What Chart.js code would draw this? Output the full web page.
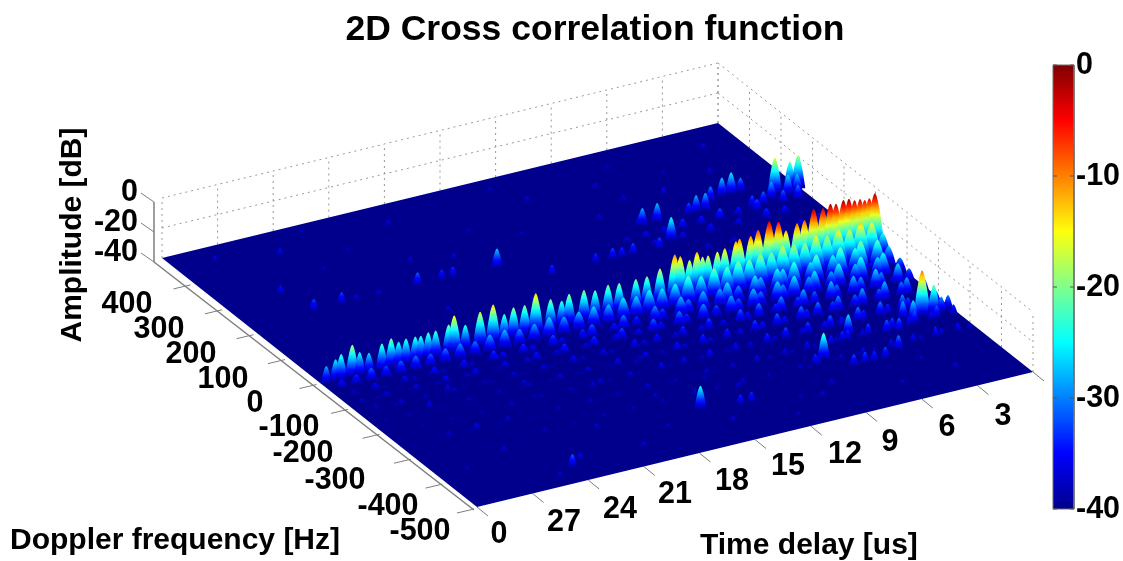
<!DOCTYPE html>
<html>
<head>
<meta charset="utf-8">
<title>2D Cross correlation function</title>
<style>
  html, body { margin: 0; padding: 0; background: #fff; overflow: hidden; }
  #box { position: relative; width: 1123px; height: 561px; }
</style>
<script src="https://cdn.jsdelivr.net/npm/chart.js@4"></script>
</head>
<body>
<div id="box"><canvas id="chart"></canvas></div>
<script>
// Ejes
const delayTicks = [30, 27, 24, 21, 18, 15, 12, 9, 6, 3, 0];
const delayLabels = ['0', '27', '24', '21', '18', '15', '12', '9', '6', '3', '0'];
const dopplerTicks = [-500, -400, -300, -200, -100, 0, 100, 200, 300, 400, 500];
const dopplerLabels = ['-500', '-400', '-300', '-200', '-100', '0', '100', '200', '300', '400'];
const ampTicks = [0, -20, -40];
const colorbarTicks = [0, -10, -20, -30, -40];
const colorbarLevels = [-40, -35, -30, -25, -20, -15, -10, -5, 0];

// Camino directo (doppler casi nulo)
const mainDoppler = -10;
const mainDelay = [29.8, 29.3, 29.0, 28.4, 28.0, 27.5, 26.8, 26.3, 25.9, 25.5, 25.0, 24.7, 24.3, 23.9, 23.2, 22.9, 22.3, 21.5, 20.8, 20.2, 19.7, 19.1, 18.5, 17.7, 17.1, 16.7, 15.9, 15.3, 14.6, 14.0, 13.1, 12.5, 11.8, 11.0, 10.7, 10.2, 9.8, 9.5, 9.2, 8.7, 8.3, 7.7, 7.5, 6.9, 6.5, 5.9, 5.4, 5.0, 4.4, 4.0, 3.5, 3.0, 2.6, 2.3, 1.9, 1.6, 1.3, 1.0, 0.75, 0.5, 0.2];
const mainAmp = [-28, -25, -22.4, -18, -24, -26, -22, -20, -23.5, -22.5, -22.7, -23, -22, -22, -20, -15, -23, -16.6, -14, -22, -19, -19.3, -13.3, -19.5, -22.5, -19, -19, -21, -19.4, -20, -20, -20, -17, -10, -12, -16, -12, -16, -16, -15, -14, -11, -10, -10, -7, -3, -5, -12, -9, -8, -2, -3, -1.4, -2.2, -1, -1, -3, -3, -4.4, -4, -1.5];

// Falda del camino directo, filas de doppler
const skirtDelayA = [0.2, 0.8, 1.4, 2.0, 2.6, 3.2, 3.8, 4.4, 5.0, 5.6, 6.2, 6.8, 7.4, 8.0, 8.6, 9.3, 10.0, 10.7, 11.4, 12.1, 12.8, 13.5, 14.2, 15.0, 15.8, 16.6, 17.4, 18.2, 19.0, 19.8, 20.6, 21.4, 22.2, 23.0, 23.8, 24.6, 25.4, 26.2, 27.0, 27.8, 28.6, 29.4];
const skirtDelayC = [0.4, 1.0, 1.9, 2.2, 3.0, 3.4, 4.3, 4.6, 5.5, 6.1, 6.4, 7.3, 7.6, 8.5, 9.1, 9.5, 10.4, 11.2, 11.6, 12.6, 13.0, 14.0, 14.7, 15.2, 16.4, 16.9, 18.0, 18.5, 19.6, 20.1, 21.2, 21.7, 22.9, 23.3, 24.4, 24.9, 26.0, 26.5, 27.6, 28.1, 29.2];
const skirtDelayD = [0.3, 1.2, 1.5, 2.4, 2.7, 3.6, 4.0, 4.9, 5.2, 6.0, 6.6, 6.9, 7.8, 8.2, 9.0, 9.4, 10.2, 10.9, 11.8, 12.2, 13.2, 13.6, 14.4, 15.3, 15.6, 16.8, 17.2, 18.4, 18.8, 19.9, 20.4, 21.6, 22.0, 23.2, 23.6, 24.8, 25.2, 26.4, 26.8, 28.0, 28.4, 29.3];
const skirtAmp35 = [-24, -15, -13, -16, -14, -17, -15, -18, -17, -16, -19, -18, -20, -19, -21, -20, -23, -21, -24, -25, -24, -26, -25, -27, -26, -27, -28, -26, -28, -29, -27, -28, -30, -29, -30, -31, -30, -31, -32, -31, -33, -34];
const skirtAmp65 = [-27, -21, -19, -23, -20, -24, -21, -25, -22, -25, -24, -27, -25, -29, -25, -28, -27, -30, -27, -32, -29, -33, -30, -34, -31, -33, -35, -32, -35, -33, -35, -33, -37, -34, -37, -34, -37, -35, -38, -35, -37];
const skirtAmp95 = [-30, -24, -26, -23, -27, -24, -28, -25, -28, -25, -29, -26, -30, -27, -31, -28, -32, -29, -33, -30, -34, -31, -35, -32, -35, -33, -36, -33, -36, -34, -36, -35, -38, -35, -37, -35, -38, -36, -38, -36, -38, -37];
const skirtAmp130 = [-31, -26, -29, -26, -29, -27, -30, -27, -31, -28, -32, -29, -33, -30, -34, -31, -35, -32, -35, -33, -36, -34, -36, -34, -37, -35, -37, -35, -38, -36, -38, -36, -38, -37, -38, -37, -39, -37, -39, -38, -39];
const skirtAmp170 = [-31, -28, -30, -27, -31, -28, -31, -29, -32, -30, -33, -30, -34, -31, -34, -32, -35, -33, -36, -33, -36, -34, -37, -35, -37, -35, -38, -36, -38, -36, -38, -37, -39, -37, -39, -37, -39, -38, -39, -38, -39, -38];
const skirtAmp215 = [-32, -29, -32, -29, -33, -30, -33, -30, -34, -31, -34, -32, -35, -32, -36, -33, -36, -34, -37, -34, -37, -35, -38, -35, -38, -36, -38, -36, -39, -37, -38, -37, -39, -37, -39, -38, -39, -38, -39, -38, -39];
const skirtAmp265 = [-33, -31, -34, -31, -34, -32, -35, -32, -35, -33, -36, -34, -37, -34, -37, -35, -37, -35, -38, -36, -38, -36, -38, -37, -38, -36, -38, -37, -39, -37, -39, -37, -39, -38, -39, -38, -39, -38, -39, -38, -39, -38];
const skirtAmp320 = [-36, -34, -35, -33, -36, -34, -37, -34, -37, -35, -37, -36, -38, -35, -38, -36, -38, -37, -38, -36, -38, -37, -39, -36, -38, -37, -39, -37, -39, -37, -39, -38, -39, -37, -39, -38, -39, -38, -39, -38, -39];

// Segundo camino y picos aislados
const echoDelay = [26.5, 25, 24.2, 23, 20.9, 19.6, 19, 16.7, 14.8, 12.4, 11.5, 11, 10.4, 9, 8.1, 8.6, 8.5, 7.7, 6, 5.6, 5.1, 4.4, 3.7, 3.2, 2.7, 1.35, 0.54, 0.1, 1.8, 0.9, 0.4, 1.5, 2.4, 0.7, 3.0, 1.7, 1.1, 0.27, 2.3, 2.6, 0.7, 5.7, 8, 15.7, 4.4, 7.1, 6.5, 6, 5.4, 4, 3.4, 13.8, 13.2, 6.3, 8.6];
const echoDoppler = [224, 224, 224, 224, 224, 224, 224, 219, 156, 159, 158, 158, 158, 156, 172, 240, 240, 240, 240, 240, 240, 265, 270, 270, 270, 240, 240, 240, 225, 225, 225, 205, 215, 205, 215, -248, -250, -246, -255, -240, -250, -249, -306, -368, -332, -349, -349, -349, -349, -271, -275, -383, -383, -265, -315];
const echoAmp = [-32, -32, -36, -36, -31, -33, -33, -27, -33, -33, -32, -33, -32, -32, -24, -31, -28, -27, -32, -28, -28, -30, -27, -25, -30, -16, -21, -18, -28, -26, -27, -31, -31, -30, -32, -9, -20, -30, -26, -28, -29, -26, -22, -24, -30, -32, -32, -33, -32, -31, -31, -33, -33, -33, -33];

// Rastro azul entre los dos caminos
const trailDelay = [3, 4, 5, 6, 7, 8, 9, 10, 2, 3, 4.5, 6, 7.5, 9, 1, 2, 3.2, 4.4, 5.6, 7, 1, 2, 3, 4, 5, 6.5, 8, 0.5, 1.5, 2.5, 3.5, 4.8];
const trailDoppler = [200, 200, 200, 200, 200, 200, 200, 200, 170, 170, 170, 170, 170, 170, 120, 120, 120, 120, 120, 120, 80, 80, 80, 80, 80, 80, 80, 40, 40, 40, 40, 40];
const trailAmp = [-32, -34, -32, -34, -33, -35, -35, -36, -34, -33, -35, -34, -35, -36, -34, -35, -34, -35, -36, -36, -35, -34, -36, -35, -36, -35, -37, -36, -35, -36, -35, -36];

// Ruido del suelo
const speckDelay = [24, 23.3, 25.2, 26.8, 27.8, 24.3, 26, 27.5, 21.7, 20, 16, 12, 8, 5, 25, 22, 18, 14, 10, 6, 3, 27, 24, 2, 7, 13, 19, 23, 28, 10, 6, 3, 12, 15, 18, 20, 21, 17, 14, 11, 19, 22, 26, 28.5, 16, 9, 4, 13, 25, 29, 21, 17, 11, 5.5, 8.5];
const speckDoppler = [-450, -432, -125, -161, -129, -262, -264, -263, -161, 300, 350, 400, 330, 380, 420, 380, 280, 300, 290, 320, 350, 300, 340, 430, 440, 460, 430, 470, 450, -420, -440, -430, -460, -430, -400, -440, -350, -300, -280, -410, -220, -210, -350, -380, -180, -390, -380, -330, -470, -120, 120, 90, 60, 60, 390];
const speckAmp = [-31, -35, -35, -35, -36, -36, -35, -36, -36, -36, -37, -36, -36, -37, -35, -37, -36, -37, -36, -35, -36, -34, -37, -36, -37, -37, -36, -37, -36, -36, -37, -36, -37, -36, -37, -36, -36, -36, -37, -37, -36, -37, -36, -37, -37, -36, -37, -36, -36, -37, -36, -37, -37, -36, -36];

const fontName = '"Liberation Sans", Arial, sans-serif';
const canvas = document.getElementById('chart');
const gradCtx = canvas.getContext('2d');

function jetColor(db) {
    const t = (db + 40) / 40;
    const c = v => Math.round(255 * Math.max(0, Math.min(1, v)));
    const r = c(1.5 - Math.abs(4 * t - 3));
    const g = c(1.5 - Math.abs(4 * t - 2));
    const b = c(1.5 - Math.abs(4 * t - 1) + 0.05);
    return `rgb(${r},${g},${b})`;
}

// Proyeccion ortografica de la caja 3D a pixeles del lienzo
function project(delay, doppler, amp) {
    const a = (30 - delay) / 30;
    const b = (doppler + 500) / 1000;
    return {
        x: 477 + a * 556 - b * 315,
        y: 507 - a * 135 - b * 249 - (amp + 40) * 1.5
    };
}

const datasets = [];

function addLine(points, color, width, dash) {
    datasets.push({
        data: points,
        borderColor: color,
        borderWidth: width,
        borderDash: dash || [],
        pointRadius: 0,
        fill: false,
        tension: 0
    });
}

function addPeak(delay, doppler, amp, spread) {
    const base = project(delay, doppler, -40);
    const top = project(delay, doppler, amp);
    const h = base.y - top.y;
    const hw = (5 + (amp + 40) * 0.22) * spread;
    const g = gradCtx.createLinearGradient(0, base.y, 0, top.y);
    for (let i = 0; i <= 8; i++) {
        g.addColorStop(i / 8, jetColor(-40 + (amp + 40) * i / 8));
    }
    datasets.push({
        data: [
            { x: base.x - hw, y: base.y },
            { x: base.x - hw * 0.45, y: base.y - h * 0.72 },
            { x: base.x, y: top.y },
            { x: base.x + hw * 0.45, y: base.y - h * 0.72 },
            { x: base.x + hw, y: base.y }
        ],
        borderWidth: 0,
        pointRadius: 0,
        tension: 0.35,
        fill: { value: base.y },
        backgroundColor: g
    });
}

// Paredes punteadas
const dotted = '#999999';
delayTicks.forEach(d => addLine([project(d, 500, -40), project(d, 500, 0)], dotted, 1, [2, 4]));
dopplerTicks.forEach(f => addLine([project(0, f, -40), project(0, f, 0)], dotted, 1, [2, 4]));
ampTicks.slice(0, 2).forEach(z => {
    addLine([project(30, 500, z), project(0, 500, z)], dotted, 1, [2, 4]);
    addLine([project(0, 500, z), project(0, -500, z)], dotted, 1, [2, 4]);
});

// Ejes
const axisGray = '#7d7d7d';
addLine([{ x: 154, y: 262 }, { x: 474, y: 510 }], axisGray, 1.5);
addLine([{ x: 154, y: 262 }, { x: 154, y: 202 }], axisGray, 1.5);
ampTicks.forEach(z => {
    const y = 262 - (z + 40) * 1.5;
    addLine([{ x: 154, y: y }, { x: 141, y: y - 9 }], axisGray, 1);
});
dopplerTicks.slice(0, 10).forEach(f => {
    const p = project(30, f, -40);
    addLine([{ x: p.x - 3, y: p.y + 2 }, { x: p.x - 20, y: p.y + 6 }], axisGray, 1);
});
delayTicks.forEach(d => {
    const p = project(d, -500, -40);
    addLine([p, { x: p.x + 11, y: p.y + 9 }], axisGray, 1);
});

// Suelo
const floorColor = jetColor(-40);
datasets.push({
    data: [project(30, 500, -40), project(0, 500, -40), project(0, -500, -40)],
    borderWidth: 0, pointRadius: 0, tension: 0, fill: '+1', backgroundColor: floorColor
});
datasets.push({
    data: [project(30, 500, -40), project(30, -500, -40), project(0, -500, -40)],
    borderWidth: 0, pointRadius: 0, tension: 0, fill: false
});

// Picos de atras hacia delante
const peaks = [];
speckDelay.forEach((d, i) => peaks.push([d, speckDoppler[i], speckAmp[i], 0.7]));
trailDelay.forEach((d, i) => peaks.push([d, trailDoppler[i], trailAmp[i], 0.9]));
echoDelay.forEach((d, i) => peaks.push([d, echoDoppler[i], echoAmp[i], 0.75]));
mainDelay.forEach((d, i) => peaks.push([d, mainDoppler, mainAmp[i], 0.75]));
skirtAmp35.forEach((z, i) => peaks.push([skirtDelayA[i], -35, z, 1]));
skirtAmp65.forEach((z, i) => peaks.push([skirtDelayC[i], -65, z, 1]));
skirtAmp95.forEach((z, i) => peaks.push([skirtDelayD[i], -95, z, 1]));
skirtAmp130.forEach((z, i) => peaks.push([skirtDelayC[i], -130, z, 0.9]));
skirtAmp170.forEach((z, i) => peaks.push([skirtDelayD[i], -170, z, 0.85]));
skirtAmp215.forEach((z, i) => peaks.push([skirtDelayC[i], -215, z, 0.8]));
skirtAmp265.forEach((z, i) => peaks.push([skirtDelayD[i], -265, z, 0.7]));
skirtAmp320.forEach((z, i) => peaks.push([skirtDelayC[i], -320, z, 0.6]));
peaks.sort((p, q) => q[1] - p[1]);
peaks.forEach(p => addPeak(p[0], p[1], p[2], p[3]));

// Barra de color
const cbLeft = 1053, cbRight = 1074;
const cbY = db => 509 - (db + 40) * 11.1;
const cbGradient = gradCtx.createLinearGradient(0, cbY(-40), 0, cbY(0));
colorbarLevels.forEach(db => cbGradient.addColorStop((db + 40) / 40, jetColor(db)));
datasets.push({
    data: [{ x: cbLeft, y: cbY(0) }, { x: cbRight, y: cbY(0) }],
    borderWidth: 0,
    pointRadius: 0,
    tension: 0,
    fill: { value: cbY(-40) },
    backgroundColor: cbGradient
});
addLine([{ x: cbLeft, y: cbY(0) }, { x: cbRight, y: cbY(0) }, { x: cbRight, y: cbY(-40) }, { x: cbLeft, y: cbY(-40) }, { x: cbLeft, y: cbY(0) }], '#6e6e6e', 1);
colorbarTicks.forEach(db => {
    addLine([{ x: cbLeft, y: cbY(db) }, { x: cbLeft + 4, y: cbY(db) }], '#555', 1);
    addLine([{ x: cbRight - 4, y: cbY(db) }, { x: cbRight, y: cbY(db) }], '#555', 1);
});

// El primer dataset debe pintarse primero
datasets.forEach((ds, i) => { ds.order = datasets.length - i; });

// Textos: van debajo de los datasets para que la barra tape el ultimo 0
const dopplerLabelPos = [[420, 532], [388, 507], [335, 481], [303, 454], [289, 428], [255, 404], [223, 380], [191, 355], [159, 330], [127, 305]];
const delayLabelPos = [[499, 535], [564, 523], [620, 510], [675, 495], [732, 482], [788, 467], [845, 455], [890, 443], [947, 428], [1003, 417], [1062, 402]];
const ampLabelY = [193, 223, 253];

const textPlugin = {
    id: 'chartText',
    beforeDatasetsDraw(chart) {
        const c = chart.ctx;
        c.save();
        c.fillStyle = '#000';
        c.textAlign = 'center';
        c.textBaseline = 'middle';

        c.font = `bold 35.5px ${fontName}`;
        c.fillText('2D Cross correlation function', 595, 30);

        c.font = `bold 30.5px ${fontName}`;
        dopplerLabels.forEach((t, i) => c.fillText(t, dopplerLabelPos[i][0], dopplerLabelPos[i][1]));
        delayLabels.forEach((t, i) => c.fillText(t, delayLabelPos[i][0], delayLabelPos[i][1]));
        c.textAlign = 'right';
        ampTicks.forEach((z, i) => c.fillText(String(z), 138, ampLabelY[i]));

        c.textAlign = 'left';
        colorbarTicks.forEach(db => c.fillText(String(db), 1076, cbY(db) + 1));

        c.font = `bold 30px ${fontName}`;
        c.fillText('Doppler frequency [Hz]', 10, 541);
        c.fillText('Time delay [us]', 700, 546);

        c.translate(73, 235);
        c.rotate(-Math.PI / 2);
        c.textAlign = 'center';
        c.fillText('Amplitude [dB]', 0, 0);
        c.restore();
    }
};

new Chart(canvas, {
    type: 'line',
    data: { datasets: datasets },
    options: {
        responsive: true,
        maintainAspectRatio: false,
        animation: false,
        parsing: false,
        layout: { padding: 0 },
        plugins: { legend: { display: false }, tooltip: { enabled: false } },
        events: [],
        scales: {
            x: { type: 'linear', min: 0, max: 1123, display: false },
            y: { type: 'linear', min: 0, max: 561, reverse: true, display: false }
        }
    },
    plugins: [textPlugin]
});
</script>
</body>
</html>
